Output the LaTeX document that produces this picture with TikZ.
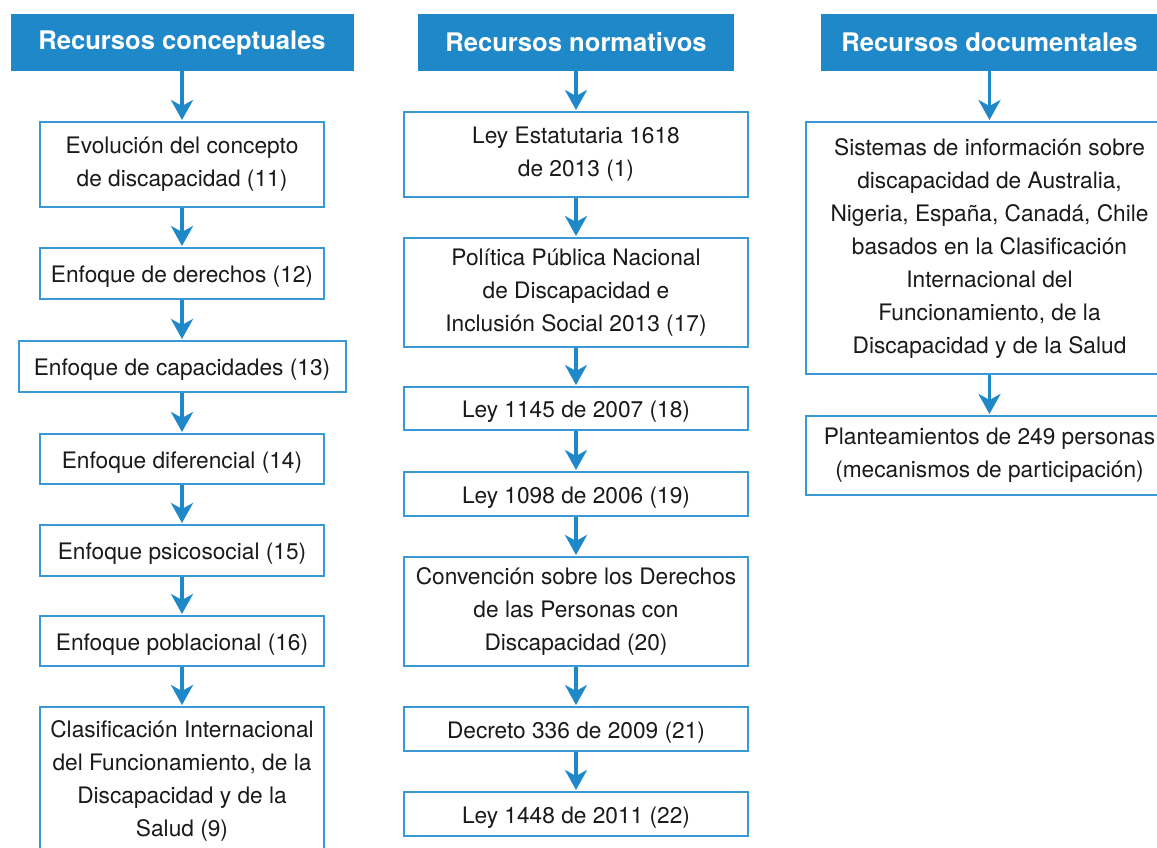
\documentclass[tikz,border=0pt]{standalone}
\usepackage{fontspec}
\setmainfont{TeX Gyre Heros}
\usetikzlibrary{arrows.meta}
\definecolor{hdrblue}{HTML}{1E88C9}
\definecolor{edgeblue}{HTML}{3A98D6}
\definecolor{txt}{HTML}{1A1A1A}
\tikzset{
  hdr/.style={fill=hdrblue, draw=none, text=white, inner sep=0pt,
    font=\fontsize{25.6}{30}\selectfont\bfseries, minimum height=57pt},
  box/.style={draw=edgeblue, line width=2pt, fill=white, text=txt, inner sep=0pt,
    align=center, font=\fontsize{22.7}{33}\selectfont,
    execute at begin node={\rule{0pt}{23pt}}},
  arr/.style={draw=hdrblue, line width=3.5pt,
    -{Stealth[length=20pt,width=22pt,inset=6pt]}, shorten >=1pt}
}
\begin{document}
\begin{tikzpicture}[x=1pt,y=-1pt]
\useasboundingbox (0,0) rectangle (1157,847);
\clip (0,0) rectangle (1157,847);
% Column 1
\node[hdr, minimum width=343pt] (h1) at (182,42.5) {Recursos conceptuales};
\node[box, minimum width=284pt, minimum height=85pt] (c1) at (182,164.5) {Evolución del concepto\\de discapacidad (11)};
\node[box, minimum width=284pt, minimum height=51pt] (c2) at (182,273.5) {Enfoque de derechos (12)};
\node[box, minimum width=327pt, minimum height=51pt] (c3) at (182,366.5) {Enfoque de capacidades (13)};
\node[box, minimum width=284pt, minimum height=50pt] (c4) at (182,459) {Enfoque diferencial (14)};
\node[box, minimum width=284pt, minimum height=51pt] (c5) at (182,550.5) {Enfoque psicosocial (15)};
\node[box, minimum width=284pt, minimum height=50pt] (c6) at (182,641) {Enfoque poblacional (16)};
\node[box, minimum width=284pt, minimum height=148pt] (c7) at (182,781) {Clasificación Internacional\\del Funcionamiento, de la\\Discapacidad y de la\\Salud (9)};
\draw[arr] (h1.south) -- (h1.south |- c1.north);
\draw[arr] (c1.south) -- (c1.south |- c2.north);
\draw[arr] (c2.south) -- (c2.south |- c3.north);
\draw[arr] (c3.south) -- (c3.south |- c4.north);
\draw[arr] (c4.south) -- (c4.south |- c5.north);
\draw[arr] (c5.south) -- (c5.south |- c6.north);
\draw[arr] (c6.south) -- (c6.south |- c7.north);
% Column 2
\node[hdr, minimum width=316pt] (h2) at (576,42.5) {Recursos normativos};
\node[box, minimum width=344pt, minimum height=85pt] (n1) at (576,154.5) {Ley Estatutaria 1618\\de 2013 (1)};
\node[box, minimum width=344pt, minimum height=109pt] (n2) at (576,292.5) {Política Pública Nacional\\de Discapacidad e\\Inclusión Social 2013 (17)};
\node[box, minimum width=344pt, minimum height=43pt] (n3) at (576,408.5) {Ley 1145 de 2007 (18)};
\node[box, minimum width=344pt, minimum height=44pt] (n4) at (576,494) {Ley 1098 de 2006 (19)};
\node[box, minimum width=344pt, minimum height=109pt] (n5) at (576,611.5) {Convención sobre los Derechos\\de las Personas con\\Discapacidad (20)};
\node[box, minimum width=344pt, minimum height=44pt] (n6) at (576,729) {Decreto 336 de 2009 (21)};
\node[box, minimum width=344pt, minimum height=44pt] (n7) at (576,814) {Ley 1448 de 2011 (22)};
\draw[arr] (h2.south) -- (h2.south |- n1.north);
\draw[arr] (n1.south) -- (n1.south |- n2.north);
\draw[arr] (n2.south) -- (n2.south |- n3.north);
\draw[arr] (n3.south) -- (n3.south |- n4.north);
\draw[arr] (n4.south) -- (n4.south |- n5.north);
\draw[arr] (n5.south) -- (n5.south |- n6.north);
\draw[arr] (n6.south) -- (n6.south |- n7.north);
% Column 3
\node[hdr, minimum width=338pt] (h3) at (989.5,42.5) {Recursos documentales};
\node[box, minimum width=368pt, minimum height=252pt] (d1) at (989.5,248) {Sistemas de información sobre\\discapacidad de Australia,\\Nigeria, España, Canadá, Chile\\basados en la Clasificación\\Internacional del\\Funcionamiento, de la\\Discapacidad y de la Salud};
\node[box, minimum width=368pt, minimum height=79pt] (d2) at (989.5,455.5) {Planteamientos de 249 personas\\(mecanismos de participación)};
\draw[arr] (h3.south) -- (h3.south |- d1.north);
\draw[arr] (d1.south) -- (d1.south |- d2.north);
\end{tikzpicture}
\end{document}
